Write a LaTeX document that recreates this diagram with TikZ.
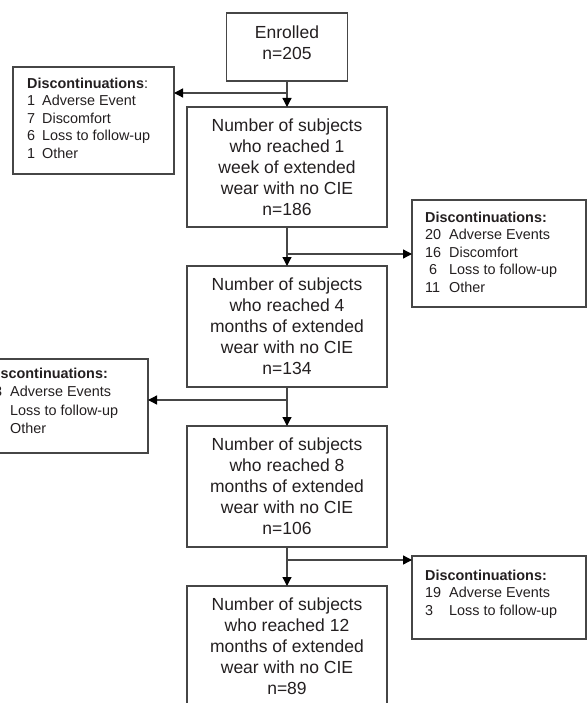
\documentclass[tikz,border=0pt]{standalone}
\usepackage{fontspec}
\setmainfont{Liberation Sans}
\usetikzlibrary{arrows.meta}
\definecolor{linec}{RGB}{70,70,70}
\definecolor{txtc}{RGB}{35,31,32}
\newcommand{\ditem}[3]{\makebox[#1][l]{#2}#3}
\begin{document}
\begin{tikzpicture}[x=1pt,y=-1pt,
  box/.style={draw=linec, line width=1.3pt, outer sep=0pt, inner sep=0pt},
  maintxt/.style={align=center, font=\fontsize{17.5}{21}\selectfont, text=txtc, inner sep=0pt},
  disctxt/.style={align=left, anchor=north west, font=\fontsize{14.4}{17.5}\selectfont, text=txtc, inner sep=0pt},
  arr/.style={draw=linec, line width=1.3pt, -{Triangle[length=9pt,width=9pt,color=black]}}]
\useasboundingbox (0,0) rectangle (588,703);

% main boxes
\node[box, minimum width=121pt, minimum height=68pt] (enr) at (287,47) {};
\node[maintxt] (enrt) at (287,43) {Enrolled\\n=205};
\node[box, maintxt, minimum width=200pt, minimum height=120pt] (b1) at (287,167)
  {Number of subjects\\who reached 1\\week of extended\\wear with no CIE\\n=186};
\node[box, maintxt, minimum width=200pt, minimum height=121pt] (b2) at (287,326.5)
  {Number of subjects\\who reached 4\\months of extended\\wear with no CIE\\n=134};
\node[box, maintxt, minimum width=200pt, minimum height=121pt] (b3) at (287,486.5)
  {Number of subjects\\who reached 8\\months of extended\\wear with no CIE\\n=106};
\node[box, maintxt, minimum width=200pt, minimum height=120pt] (b4) at (287,646)
  {Number of subjects\\who reached 12\\months of extended\\wear with no CIE\\n=89};

% discontinuation boxes
\node[box, minimum width=161pt, minimum height=107pt] (d1) at (93.5,120.5) {};
\node[box, minimum width=174pt, minimum height=107pt] (d2) at (499,253.5) {};
\node[box, minimum width=175pt, minimum height=94pt] (d3) at (60.5,406) {};
\node[box, minimum width=174pt, minimum height=83pt] (d4) at (499,597.5) {};

\node[disctxt] (d1t) at (27,76) {\rule{0pt}{12pt}\textbf{Discontinuations}:\\
  \ditem{15pt}{1}{Adverse Event}\\
  \ditem{15pt}{7}{Discomfort}\\
  \ditem{15pt}{6}{Loss to follow-up}\\
  \ditem{15pt}{1}{Other}};
\node[disctxt] (d2t) at (425,210) {\rule{0pt}{12pt}\textbf{Discontinuations:}\\
  \ditem{24pt}{20}{Adverse Events}\\
  \ditem{24pt}{16}{Discomfort}\\
  \ditem{24pt}{\hspace{4pt}6}{Loss to follow-up}\\
  \ditem{24pt}{11}{Other}};
\node[disctxt, font=\fontsize{14.4}{18.5}\selectfont] (d3t) at (-14,366) {\rule{0pt}{12pt}\textbf{Discontinuations:}\\
  \ditem{24pt}{23}{Adverse Events}\\
  \ditem{24pt}{3}{Loss to follow-up}\\
  \ditem{24pt}{2}{Other}};
\node[disctxt] (d4t) at (425,568) {\rule{0pt}{12pt}\textbf{Discontinuations:}\\
  \ditem{24pt}{19}{Adverse Events}\\
  \ditem{24pt}{3}{Loss to follow-up}};

% junctions
\coordinate (j1) at (287,93);
\coordinate (j2) at (287,254);
\coordinate (j3) at (287,400);
\coordinate (j4) at (287,560);

% connectors
\draw[arr] (enr.south) -- (b1.north);
\draw[arr] (b1.south) -- (b2.north);
\draw[arr] (b2.south) -- (b3.north);
\draw[arr] (b3.south) -- (b4.north);
\draw[arr] (j1) -- (j1 -| d1.east);
\draw[arr] (j2) -- (j2 -| d2.west);
\draw[arr] (j3) -- (j3 -| d3.east);
\draw[arr] (j4) -- (j4 -| d4.west);
\end{tikzpicture}
\end{document}
